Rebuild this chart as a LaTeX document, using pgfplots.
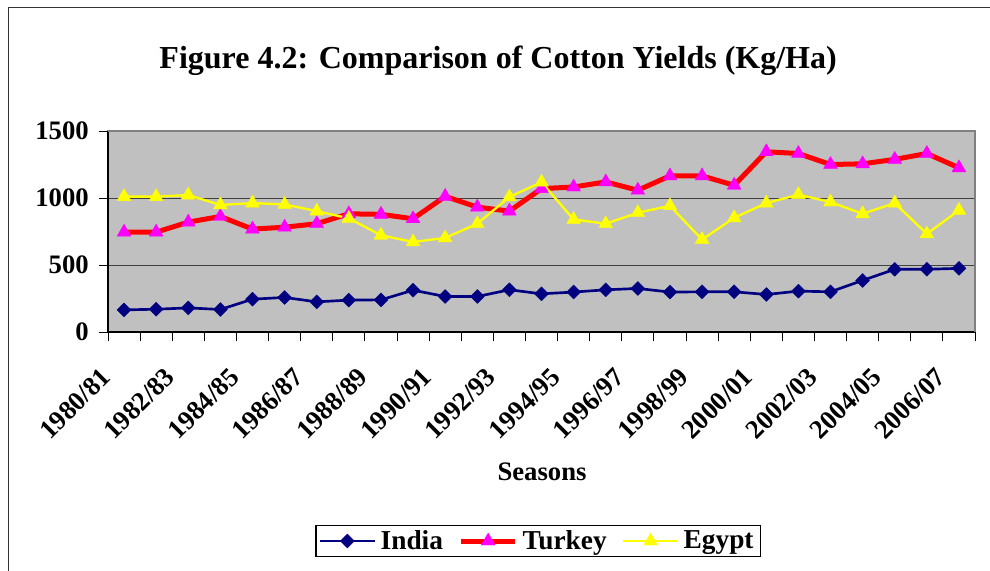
\documentclass[border=0pt]{standalone}
\usepackage{fontspec}
\setmainfont{Liberation Serif}
\usepackage{pgfplots}
\pgfplotsset{compat=1.18}
\definecolor{bgc}{HTML}{C0C0C0}
\definecolor{borderc}{HTML}{808080}
\definecolor{navyc}{HTML}{000080}
\definecolor{redc}{HTML}{FF0000}
\definecolor{magc}{HTML}{FF00FF}
\definecolor{yelc}{HTML}{FFFF00}
\begin{document}
\begin{tikzpicture}
\useasboundingbox (0,0) rectangle (742.5pt,-428.25pt);
\draw[line width=1.1pt, black!80] (6.2pt,-440pt) -- (6.2pt,-5.5pt) -- (760pt,-5.5pt);
\begin{axis}[
  at={(81pt,-249pt)}, anchor=south west,
  scale only axis, width=650.25pt, height=150.75pt,
  xmin=-0.5, xmax=26.5, ymin=0, ymax=1500,
  axis x line=bottom, axis y line=left,
  x axis line style={-}, y axis line style={-},
  axis line style={black, line width=1pt},
  axis background/.style={fill=bgc, draw=borderc, line width=1.5pt},
  clip=false,
  tick align=outside,
  xtick={0,2,...,26},
  xticklabels={1980/81,1982/83,1984/85,1986/87,1988/89,1990/91,1992/93,1994/95,1996/97,1998/99,2000/01,2002/03,2004/05,2006/07},
  minor xtick={-0.5,0.5,...,26.5},
  major x tick style={draw=none},
  minor x tick style={draw=black, line width=0.6pt},
  major tick length=6.75pt, minor tick length=6.75pt,
  ytick={0,500,1000,1500},
  y tick style={draw=black, line width=0.6pt},
  ymajorgrids, grid style={black!75, line width=0.75pt},
  /pgf/number format/assume math mode=true,
  /pgf/number format/1000 sep={},
  tick label style={font=\bfseries\fontsize{20}{20}\selectfont},
  yticklabel style={anchor=east, inner sep=0pt, xshift=-7.5pt},
  xticklabel style={rotate=45, anchor=east, inner sep=0pt, xshift=-26.2pt, yshift=-7.1pt},
  title={Figure 4.2: Comparison of Cotton Yields (Kg/Ha)},
  title style={at={(axis description cs:0.45,1.31)}, anchor=center, font=\bfseries\fontsize{24}{24}\selectfont},
  xlabel={Seasons},
  xlabel style={at={(axis description cs:0.5006,-0.6965)}, anchor=center, font=\bfseries\fontsize{20}{20}\selectfont},
  legend style={at={(axis description cs:0.4965,-1.04)}, anchor=center, legend columns=3, draw=black, line width=0.8pt, font=\bfseries\fontsize{20.5}{22}\selectfont, inner sep=2pt, nodes={inner xsep=3.5pt}},
  legend image code/.code={\draw[mark repeat=2,mark phase=2] plot coordinates {(0pt,0pt)(20.5pt,0pt)(41pt,0pt)};},
  /tikz/every even column/.append style={column sep=8pt},
]
\addplot[color=navyc, line width=2pt, line join=round, mark=square*, mark size=3.7pt, mark options={rotate=45, solid, fill=navyc, draw=navyc, line width=0.3pt}]
coordinates {(0,165)(1,170)(2,180)(3,168)(4,245)(5,258)(6,225)(7,238)(8,240)(9,312)(10,265)(11,265)(12,315)(13,285)(14,298)(15,315)(16,325)(17,298)(18,300)(19,300)(20,280)(21,305)(22,300)(23,385)(24,468)(25,468)(26,475)};
\addlegendentry{India}
\addplot[color=redc, line width=3.75pt, line join=round, mark=triangle*, mark size=6pt, mark options={solid, fill=magc, draw=magc, line width=0.3pt}]
coordinates {(0,745)(1,745)(2,820)(3,862)(4,768)(5,782)(6,808)(7,882)(8,878)(9,845)(10,1012)(11,932)(12,902)(13,1070)(14,1082)(15,1120)(16,1058)(17,1165)(18,1165)(19,1095)(20,1345)(21,1332)(22,1250)(23,1255)(24,1288)(25,1332)(26,1225)};
\addlegendentry{Turkey}
\addplot[color=yelc, line width=1.75pt, line join=round, mark=triangle*, mark size=6pt, mark options={solid, fill=yelc, draw=yelc, line width=0.3pt}]
coordinates {(0,1010)(1,1010)(2,1022)(3,948)(4,962)(5,952)(6,902)(7,848)(8,722)(9,672)(10,702)(11,808)(12,1008)(13,1118)(14,840)(15,808)(16,890)(17,942)(18,690)(19,852)(20,962)(21,1025)(22,970)(23,882)(24,962)(25,732)(26,908)};
\addlegendentry{Egypt}
\draw[borderc, line width=1.5pt] (rel axis cs:0,1) -- (rel axis cs:1,1) -- (rel axis cs:1,0);
\end{axis}
\end{tikzpicture}
\end{document}
